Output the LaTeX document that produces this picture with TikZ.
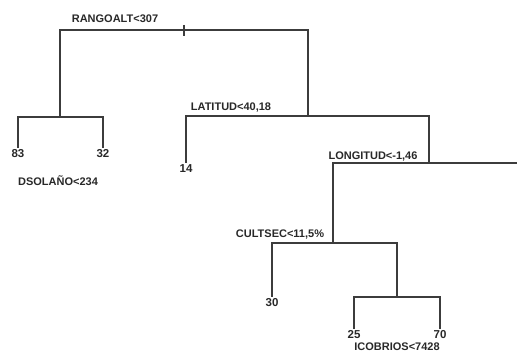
\documentclass[tikz,border=0pt]{standalone}
\usepackage{fontspec}
\setmainfont{Liberation Sans}
\usepackage{xcolor}
\usepackage{tikz}
\usetikzlibrary{positioning, calc}
\definecolor{cLine}{RGB}{60,60,60}
\definecolor{cText}{RGB}{40,40,40}
\tikzset{
	branch/.style   ={draw=cLine, line width=1.6pt},
	leaf/.style     ={anchor=north, inner sep=1pt, text=cText, font=\bfseries\fontsize{11.5}{13}\selectfont},
	splitlab/.style ={inner sep=1pt, text=cText, font=\bfseries\fontsize{11}{12}\selectfont},
}
\begin{document}
\begin{tikzpicture}[x=1pt, y=-1pt]
					\useasboundingbox (0,0) rectangle (517,355);
					\coordinate (rango) at (184,30);
					\coordinate (dsol) at (60,117);
					\coordinate (lat) at (308,116);
					\coordinate (long) at (429,163);
					\coordinate (cult) at (333,243);
					\coordinate (icob) at (397,297);
					\coordinate (edge) at (517,163);
					\node[leaf] (l83) at (18,148) {83};
					\node[leaf] (l32) at (103,148) {32};
					\node[leaf] (l14) at (186,163) {14};
					\node[leaf] (l30) at (272,297) {30};
					\node[leaf] (l25) at (354,329) {25};
					\node[leaf] (l70) at (440,329) {70};
					\node[splitlab] (t1) at (115,19) {RANGOALT<307};
					\node[splitlab] (t2) at (58,181) {DSOLAÑO<234};
					\node[splitlab] (t3) at (231,108) {LATITUD<40,18};
					\node[splitlab] (t4) at (373,157) {LONGITUD<-1,46};
					\node[splitlab] (t5) at (280,235) {CULTSEC<11,5\%};
					\node[splitlab] (t6) at (397,347) {ICOBRIOS<7428};
					\draw[branch] ($(rango)+(0,-5)$) -- ($(rango)+(0,6)$);
					\draw[branch] (rango) -| (dsol); \draw[branch] (rango) -| (lat);
					\draw[branch] (dsol) -| (l83.north); \draw[branch] (dsol) -| (l32.north);
					\draw[branch] (lat) -| (l14.north); \draw[branch] (lat) -| (long);
					\draw[branch] (long) -| (cult); \draw[branch] (long) -- (edge);
					\draw[branch] (cult) -| (l30.north); \draw[branch] (cult) -| (icob);
					\draw[branch] (icob) -| (l25.north); \draw[branch] (icob) -| (l70.north);
				\end{tikzpicture}
\end{document}
